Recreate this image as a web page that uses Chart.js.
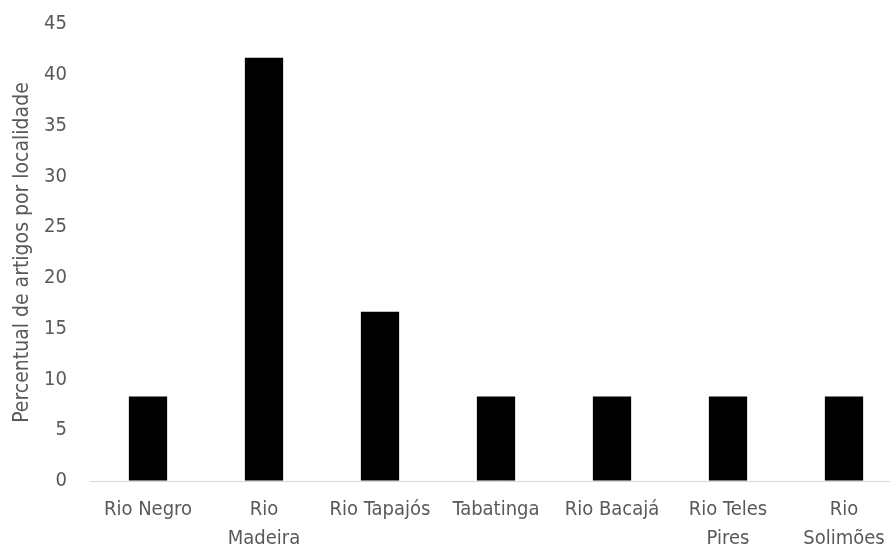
<!DOCTYPE html>
<html lang="pt">
<head>
<meta charset="UTF-8">
<title>Percentual de artigos por localidade</title>
<script src="https://cdn.jsdelivr.net/npm/chart.js@4"></script>
<style>
  html, body { margin: 0; padding: 0; background: #fff; }
  /* o eixo x do original passa da borda direita, por isso o canvas é um pouco mais largo */
  #wrap { width: 890px; height: 550px; overflow: hidden; }
</style>
</head>
<body>
<div id="wrap"><canvas id="grafico" width="904" height="550"></canvas></div>
<script>
// dados
const localidades = [
  'Rio Negro',
  ['Rio', 'Madeira'],
  'Rio Tapajós',
  'Tabatinga',
  'Rio Bacajá',
  ['Rio Teles', 'Pires'],
  ['Rio', 'Solimões']
];
const percentuais = [8.33, 41.67, 16.67, 8.33, 8.33, 8.33, 8.33];
const yMin = 0, yMax = 45, yPasso = 5;

const corTexto = '#595959';
const fonte = { family: "'DejaVu Sans Condensed', 'Open Sans', sans-serif", size: 20, lineHeight: 1.45 };

new Chart(document.getElementById('grafico'), {
  type: 'bar',
  data: {
    labels: localidades,
    datasets: [{
      data: percentuais,
      backgroundColor: '#000',
      borderWidth: 0,
      categoryPercentage: 1,
      barPercentage: 0.33
    }]
  },
  options: {
    responsive: false,
    animation: false,
    layout: { padding: { top: 24, right: 2, left: 0, bottom: 0 } },
    plugins: { legend: { display: false }, tooltip: { enabled: false } },
    scales: {
      x: {
        grid: { display: false, drawTicks: false },
        border: { color: '#d9d9d9', width: 1 },
        ticks: { color: corTexto, font: fonte, maxRotation: 0, minRotation: 0, autoSkip: false, padding: 14 },
        afterFit: (eixo) => { eixo.height = 69; }
      },
      y: {
        min: yMin, max: yMax,
        // marcas invisíveis só para afastar os números do eixo
        grid: { drawOnChartArea: false, drawTicks: true, tickLength: 20, tickColor: 'rgba(0,0,0,0)' },
        border: { display: false },
        ticks: { stepSize: yPasso, color: corTexto, font: { ...fonte, lineHeight: 1.2 }, padding: 3 },
        title: { display: true, text: 'Percentual de artigos por localidade', color: corTexto, font: { ...fonte, size: 21, lineHeight: 1.2 }, padding: { top: 10, bottom: 0 } },
        afterFit: (eixo) => { eixo.width = 90; }
      }
    }
  }
});
</script>
</body>
</html>
